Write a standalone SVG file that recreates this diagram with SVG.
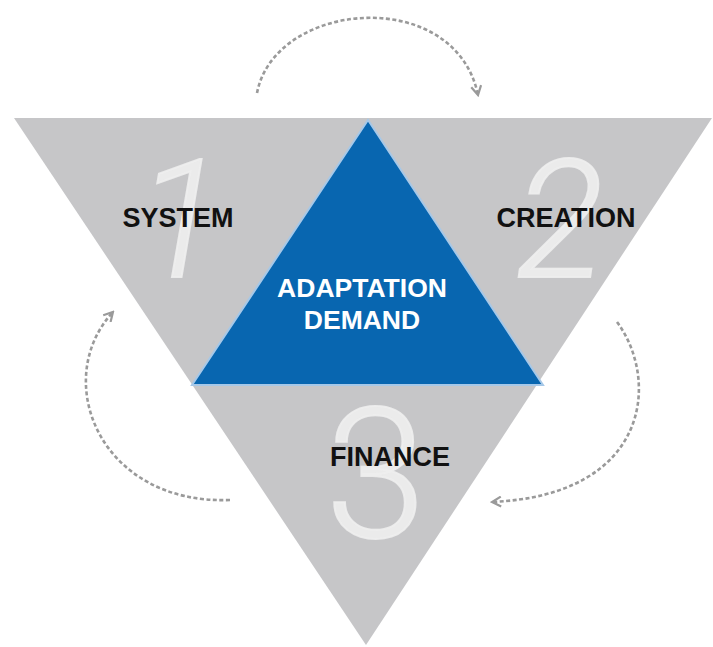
<svg xmlns="http://www.w3.org/2000/svg" width="713" height="647" viewBox="0 0 713 647">
  <style>
    .lbl { font-family: "Liberation Sans", Arial, sans-serif; font-weight: bold; font-size: 27px; fill: #111111; text-anchor: middle; }
    .lblw { font-family: "Liberation Sans", Arial, sans-serif; font-weight: bold; font-size: 26.5px; fill: #ffffff; text-anchor: middle; }
    .num { font-family: Roboto, "DejaVu Sans", sans-serif; font-weight: 300; fill: #eeeeee; fill-opacity: 0.9; stroke: #eeeeee; stroke-opacity: 0.9; stroke-width: 2; text-anchor: middle; }
    .conn { fill: none; stroke: #9a9a9a; stroke-width: 2.6; stroke-dasharray: 4 2.5; }
  </style>
  <defs>
    <marker id="chev" viewBox="0 0 12 12" refX="10" refY="6" markerWidth="12" markerHeight="12" markerUnits="userSpaceOnUse" orient="auto">
      <path d="M1,1 L10,6 L1,11" fill="none" stroke="#9a9a9a" stroke-width="2.2"/>
    </marker>
  </defs>
  <rect width="713" height="647" fill="#ffffff"/>

  <g id="outer-triangle">
    <polygon points="14,118 712,118 366,645" fill="#c6c6c8"/>
  </g>

  <g id="node-system">
    <text class="num" x="180" y="277" font-size="165" font-style="italic">1</text>
    <text class="lbl" x="178" y="227">SYSTEM</text>
  </g>

  <g id="node-creation">
    <text class="num" x="560" y="277" font-size="165" font-style="italic">2</text>
    <text class="lbl" x="566" y="227">CREATION</text>
  </g>

  <g id="node-finance">
    <text class="num" x="376" y="537" font-size="182">3</text>
    <text class="lbl" x="390" y="466">FINANCE</text>
  </g>

  <g id="node-adaptation-demand">
    <polygon points="368,120 192,385 543,385" fill="#0866b0" stroke="#a6c8e8" stroke-width="2"/>
    <text class="lblw" x="362" y="297">ADAPTATION</text>
    <text class="lblw" x="362" y="329">DEMAND</text>
  </g>

  <g id="connectors">
    <path class="conn" d="M257,93 C275,0 455,-15 478,95" marker-end="url(#chev)"/>
    <path class="conn" d="M617,322 C660,380 650,495 492,502" marker-end="url(#chev)"/>
    <path class="conn" d="M230,500 C100,505 50,380 113,312" marker-end="url(#chev)"/>
  </g>
</svg>
